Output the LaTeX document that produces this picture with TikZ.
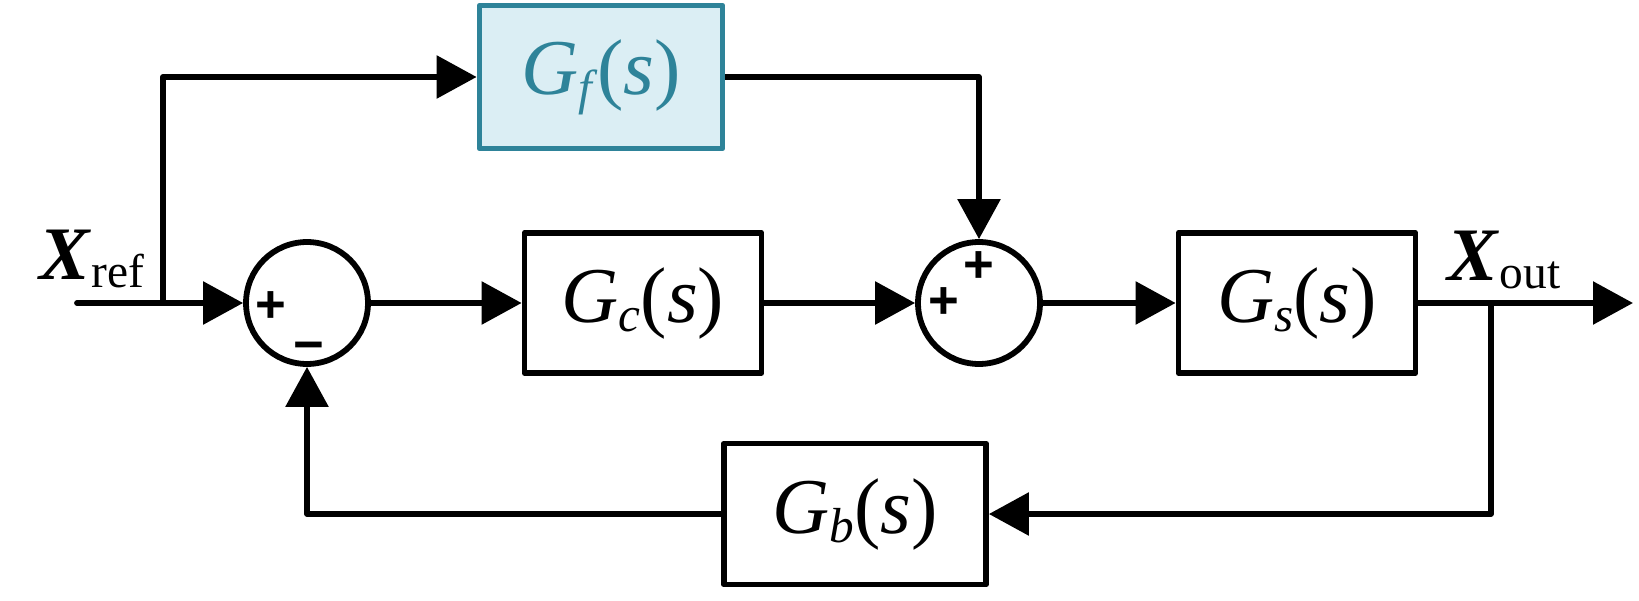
\documentclass[tikz,border=0pt]{standalone}
\usepackage{fontspec}
\setmainfont{LiberationSerif}[Extension = .ttf, UprightFont = *-Regular, ItalicFont = *-Italic, BoldFont = *-Bold, BoldItalicFont = *-BoldItalic]
\newfontfamily\signfont{Liberation Sans}
\usetikzlibrary{arrows.meta}
\definecolor{fline}{HTML}{2E8399}
\definecolor{ffill}{HTML}{DBEEF4}
\newcommand{\tfun}[1]{\textit{G}\raisebox{-5.5pt}{\fontsize{28}{30}\selectfont\textit{#1}}(\textit{s})}

\begin{document}
\begin{tikzpicture}[x = 0.02cm, y = -0.02cm, line width = 3.3pt, line join = round,
                        block/.style = {rectangle, draw, minimum width = 4.74cm, minimum height = 2.8cm, font = \fontsize{45}{50}\selectfont},
                        sum/.style = {circle, draw, minimum size = 2.44cm, inner sep = 0pt},
                        sign/.style = {inner sep = 0pt, font = \signfont\bfseries\fontsize{30}{32}\selectfont},
                        arr/.style = {-{Triangle[length = 0.8cm, width = 0.84cm]}}]
      \useasboundingbox (0, 0) rectangle (1639, 601);

      \node [sum] (s1) at (307, 303){};
      \node [sum] (s2) at (979, 303){};
      \node [block] (gc) at (643, 303){\tfun{c}};
      \node [block] (gs) at (1297, 303){\tfun{s}};
      \node [block, minimum width = 4.86cm, minimum height = 2.86cm, draw = fline, fill = ffill, text = fline] (gf) at (601, 77){\tfun{f}};
      \node [block, minimum width = 5.24cm, minimum height = 2.82cm] (gb) at (855, 514){\tfun{b}};

      \node [sign] (p1) at (271, 307){+};
      \node [sign] (m1) at (309, 352){−};
      \node [sign] (p2) at (944, 303){+};
      \node [sign] (p3) at (979, 267){+};

      \node [anchor = base west, inner sep = 0pt, font = \fontsize{43}{45}\selectfont] (xref) at (37, 279){\textbf{\textit{X}}\raisebox{-5pt}{\fontsize{27}{29}\selectfont ref}};
      \node [anchor = base west, inner sep = 0pt, font = \fontsize{43}{45}\selectfont] (xout) at (1445, 280){\textbf{\textit{X}}\raisebox{-5pt}{\fontsize{27}{29}\selectfont out}};

      \coordinate (in) at (77, 303);
      \coordinate (br) at (163, 303);
      \coordinate (po) at (1491, 303);
      \coordinate (out) at (1633, 303);

      \draw [line cap = round] (in) -- (br);
      \draw [arr] (br) -- (s1);
      \draw [arr] (br) |- (gf);
      \draw [arr] (s1) -- (gc);
      \draw [arr] (gc) -- (s2);
      \draw [arr] (gf) -| (s2);
      \draw [arr] (s2) -- (gs);
      \draw [arr] (gs) -- (out);
      \draw [arr] (po) |- (gb);
      \draw [arr] (gb) -| (s1);
      \end{tikzpicture}
\end{document}
